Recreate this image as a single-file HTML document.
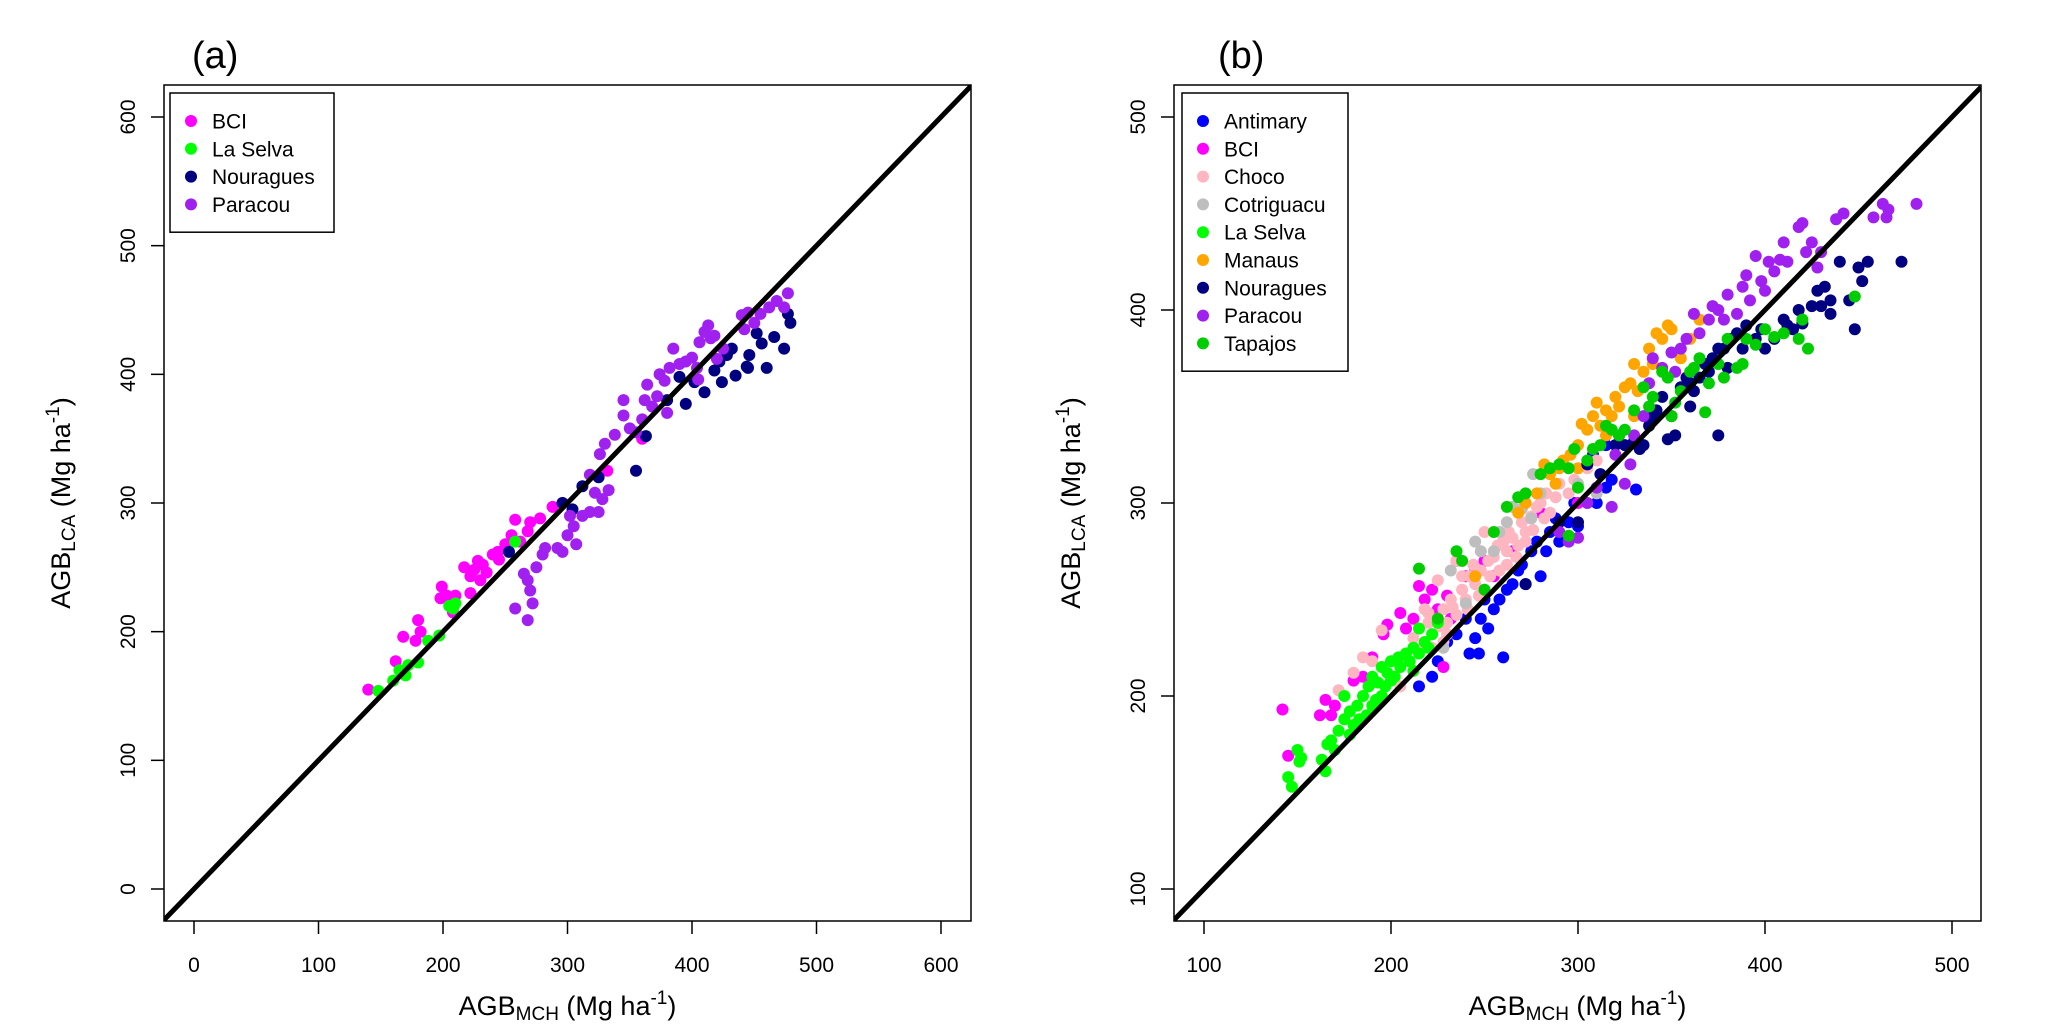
<!DOCTYPE html>
<html><head><meta charset="utf-8"><style>
html,body{margin:0;padding:0;background:#fff;width:2066px;height:1033px;overflow:hidden}
svg{display:block;font-family:"Liberation Sans",Arial,sans-serif}
</style></head><body>
<svg id="chart" width="2066" height="1033" viewBox="0 0 2066 1033" xmlns="http://www.w3.org/2000/svg">
<defs>
<clipPath id="clipA"><rect x="164" y="85" width="807" height="836"/></clipPath>
<clipPath id="clipB"><rect x="1174" y="85" width="807" height="836"/></clipPath>
</defs>
<g id="panelA"></g>
<g id="panelB"></g>
</svg>
<script>
// ---- Panel (a) data ----
const aSeries = ["BCI","La Selva","Nouragues","Paracou"];
const aColors = ["#ff00ff","#00ff00","#000080","#a020f0"];
const aBCI = [[140,155],[162,177],[168,196],[178,193],[180,209],[182,200],[198,226],[199,235],[210,228],[208,215],[217,250],[222,243],[225,248],[228,255],[230,240],[232,252],[235,246],[240,260],[245,256],[250,268],[255,275],[258,287],[262,270],[270,285],[278,288],[288,297],[296,300],[360,350],[332,325],[203,228],[222,230],[244,262],[268,278]];
const aLaSelva = [[148,154],[160,162],[165,170],[170,166],[172,174],[180,176],[188,193],[197,197],[205,220],[210,222],[258,270],[208,218]];
const aNouragues = [[253,262],[296,300],[304,295],[312,313],[325,320],[355,325],[363,352],[380,380],[390,398],[395,377],[402,394],[410,386],[418,403],[422,410],[424,394],[428,415],[432,420],[435,399],[445,405],[446,415],[452,432],[456,424],[460,405],[466,429],[474,420],[477,447],[479,440],[444,406]];
const aParacou = [[265,245],[268,240],[270,232],[272,222],[258,218],[268,209],[275,250],[280,260],[282,265],[292,265],[296,262],[300,275],[302,290],[305,282],[307,268],[312,290],[318,293],[322,308],[325,293],[328,303],[318,322],[326,338],[330,346],[333,310],[338,353],[345,380],[345,368],[350,358],[355,355],[360,365],[362,380],[364,392],[368,375],[372,383],[374,400],[378,395],[380,370],[382,405],[385,420],[390,408],[395,410],[400,413],[404,405],[406,425],[410,433],[413,438],[415,428],[418,430],[405,396],[440,446],[445,448],[450,440],[455,447],[462,452],[468,457],[474,452],[477,463],[442,435],[425,420],[420,412]];
const aTicks = [0,100,200,300,400,500,600];

// ---- Panel (b) data ----
const bSeries = ["Antimary","BCI","Choco","Cotriguacu","La Selva","Manaus","Nouragues","Paracou","Tapajos"];
const bColors = ["#0000ff","#ff00ff","#ffb6c1","#bebebe","#00ff00","#ffa500","#000080","#a020f0","#00cd00"];
const bAntimary = [[215,205],[222,210],[225,218],[242,222],[247,222],[260,220],[245,230],[248,240],[252,235],[255,245],[258,250],[262,255],[265,258],[270,268],[272,258],[275,275],[280,262],[283,275],[285,285],[290,280],[295,290],[300,288],[310,300],[315,308],[318,312],[331,307],[308,325],[315,330],[240,240],[250,250],[268,265],[278,280],[288,292],[298,300],[235,232],[230,228]];
const bBCI = [[142,193],[145,169],[162,190],[165,198],[168,190],[170,195],[180,208],[185,210],[190,220],[196,232],[198,237],[205,243],[208,235],[215,257],[218,250],[222,255],[225,245],[230,252],[232,240],[240,262],[245,265],[250,270],[255,262],[265,275],[280,295],[300,300],[228,215],[235,270],[212,240],[260,280]];
const bChoco = [[172,203],[180,212],[185,220],[190,218],[195,234],[205,205],[208,220],[212,230],[215,235],[218,226],[220,238],[222,232],[225,240],[228,245],[230,232],[232,250],[235,242],[238,255],[240,250],[242,262],[245,258],[248,265],[250,255],[252,270],[255,272],[258,265],[260,280],[262,275],[265,282],[268,278],[270,290],[272,285],[275,293],[278,298],[280,300],[283,305],[285,295],[290,310],[295,305],[298,312],[305,318],[310,322],[225,260],[235,270],[250,285],[218,245],[228,228],[262,268],[220,243],[226,236],[233,246],[238,262],[244,268],[247,252],[253,262],[257,278],[263,285],[267,272],[272,280],[276,286],[282,292],[288,303],[222,225],[230,238],[241,245]];
const bCotriguacu = [[228,225],[232,265],[240,248],[245,280],[248,275],[255,275],[262,290],[265,298],[270,297],[275,292],[276,315],[280,305],[258,285],[300,310],[310,305]];
const bLaSelva = [[145,158],[147,153],[150,172],[151,166],[152,168],[163,167],[165,161],[166,175],[168,177],[170,172],[172,182],[175,188],[175,200],[178,180],[178,192],[180,185],[182,195],[183,188],[185,200],[187,190],[188,205],[190,195],[190,210],[192,198],[193,207],[195,215],[195,200],[197,205],[198,212],[200,218],[200,208],[202,210],[204,220],[205,215],[208,222],[210,218],[212,225],[215,222],[218,228],[222,232],[225,238],[215,235],[212,213],[220,225]];
const bManaus = [[245,262],[268,295],[272,300],[278,305],[282,320],[285,315],[288,310],[292,322],[296,325],[300,330],[302,341],[305,338],[308,345],[310,352],[312,340],[315,348],[318,345],[320,355],[322,350],[325,360],[328,362],[330,372],[332,358],[335,368],[338,380],[340,372],[342,388],[345,385],[348,392],[350,390],[355,375],[360,385],[365,395],[330,345],[315,335],[290,318],[300,318]];
const bNouragues = [[272,258],[290,290],[300,290],[305,320],[312,315],[320,330],[322,335],[325,330],[330,332],[333,328],[335,330],[338,340],[340,345],[342,348],[345,355],[350,345],[352,335],[355,360],[358,365],[360,362],[362,358],[365,365],[368,372],[370,368],[372,375],[375,335],[375,380],[378,380],[380,370],[382,385],[385,388],[388,380],[390,392],[395,385],[398,390],[400,380],[405,385],[410,395],[412,392],[415,390],[418,400],[420,393],[425,402],[428,410],[430,402],[432,412],[435,398],[435,405],[440,425],[445,405],[448,390],[450,422],[452,415],[455,425],[473,425],[348,333],[360,350]];
const bParacou = [[290,285],[295,280],[300,282],[305,300],[310,308],[318,298],[320,325],[325,310],[330,335],[335,345],[340,375],[345,370],[350,378],[352,368],[355,380],[358,385],[362,398],[365,388],[370,395],[372,402],[375,400],[378,395],[380,408],[385,398],[388,412],[390,418],[392,405],[395,428],[398,415],[400,410],[402,425],[405,420],[408,426],[410,435],[412,425],[418,443],[420,445],[422,430],[425,435],[428,422],[430,430],[438,447],[442,450],[458,448],[463,455],[465,448],[466,452],[481,455],[338,362],[328,320]];
const bTapajos = [[215,266],[225,240],[235,275],[238,270],[250,255],[255,285],[262,298],[268,303],[272,305],[280,315],[285,318],[290,320],[295,318],[298,328],[300,308],[305,322],[308,328],[312,330],[315,340],[318,338],[322,335],[325,338],[330,348],[335,360],[338,350],[340,355],[345,368],[348,365],[350,345],[352,352],[355,358],[360,368],[362,370],[365,375],[368,347],[370,362],[375,372],[378,365],[380,385],[385,370],[388,372],[390,385],[395,382],[400,390],[405,386],[410,388],[420,395],[423,380],[418,385],[448,407],[295,283]];
const bTicks = [100,200,300,400,500];

const NS = "http://www.w3.org/2000/svg";
function mk(parent, tag, attrs, text){
  const e = document.createElementNS(NS, tag);
  for (const k in attrs) e.setAttribute(k, attrs[k]);
  if (text !== undefined) e.textContent = text;
  parent.appendChild(e);
  return e;
}

function drawPanel(g, cfg){
  const {box, xd, yd, xr, yr, ticks, series, colors, data, label, labelX, clip, ytitleX, legend} = cfg;
  const sx = v => xr[0] + (v - xd[0]) / (xd[1] - xd[0]) * (xr[1] - xr[0]);
  const sy = v => yr[0] + (v - yd[0]) / (yd[1] - yd[0]) * (yr[1] - yr[0]);
  const ix = p => xd[0] + (p - xr[0]) / (xr[1] - xr[0]) * (xd[1] - xd[0]);
  const iy = p => yd[0] + (p - yr[0]) / (yr[1] - yr[0]) * (yd[1] - yd[0]);
  const lab = mk(g, "text", {x: labelX, y: 68, "font-size": 38, fill: "#000"}, label);
  
  
  const pts = mk(g, "g", {"clip-path": "url(#" + clip + ")"});
  
  
  data.forEach((arr, si) => {
    arr.forEach(p => {
      const c = mk(pts, "circle", {cx: sx(p[0]).toFixed(1), cy: sy(p[1]).toFixed(1), r: 6, fill: colors[si]});
      
      
    });
  });
  // 1:1 line limited to plot box
  const lo = Math.max(ix(box[0]), iy(box[3]));
  const hi = Math.min(ix(box[2]), iy(box[1]));
  const ln = mk(g, "line", {x1: sx(lo), y1: sy(lo), x2: sx(hi), y2: sy(hi), stroke: "#000", "stroke-width": 5, "clip-path": "url(#" + clip + ")"});
  
  
  const bx = mk(g, "rect", {x: box[0], y: box[1], width: box[2]-box[0], height: box[3]-box[1], fill: "none", stroke: "#000", "stroke-width": 1.5});
  
  
  ticks.forEach(t => {
    const X = sx(t);
    const tl = mk(g, "line", {x1: X, y1: box[3], x2: X, y2: box[3]+13, stroke: "#000", "stroke-width": 1.5});
    
    
    const tx = mk(g, "text", {x: X, y: 972, "text-anchor": "middle", "font-size": 21}, String(t));
    
    
    const Y = sy(t);
    const yl = mk(g, "line", {x1: box[0]-13, y1: Y, x2: box[0], y2: Y, stroke: "#000", "stroke-width": 1.5});
    
    
    const yx = mk(g, "text", {x: 0, y: 0, "text-anchor": "middle", "font-size": 21, transform: "translate(" + (box[0]-29) + "," + Y + ") rotate(-90)"}, String(t));
    
    
  });
  const cx = (box[0]+box[2])/2;
  const xt = mk(g, "text", {x: cx, y: 1015, "text-anchor": "middle", "font-size": 27});
  
  
  xt.innerHTML = 'AGB<tspan font-size="19" dy="5">MCH</tspan><tspan dy="-5"> (Mg ha</tspan><tspan font-size="19" dy="-11">-1</tspan><tspan dy="11">)</tspan>';
  const cy = (box[1]+box[3])/2;
  const yt = mk(g, "text", {x: 0, y: 0, "text-anchor": "middle", "font-size": 27, transform: "translate(" + ytitleX + "," + cy + ") rotate(-90)"});
  
  
  yt.innerHTML = 'AGB<tspan font-size="19" dy="5">LCA</tspan><tspan dy="-5"> (Mg ha</tspan><tspan font-size="19" dy="-11">-1</tspan><tspan dy="11">)</tspan>';
  const lg = mk(g, "g", {});
  
  
  const lb = mk(lg, "rect", {x: legend.x, y: 93, width: legend.w, height: 28 + series.length*27.8, fill: "#fff", stroke: "#000", "stroke-width": 1.5});
  
  
  series.forEach((s, i) => {
    const yy = 121 + i*27.8;
    const e = mk(lg, "g", {});
    
    
    mk(e, "circle", {cx: legend.x + 21, cy: yy, r: 6, fill: colors[i]});
    mk(e, "text", {x: legend.x + 42, y: yy + 7.5, "font-size": 21}, s);
  });
}

drawPanel(document.getElementById("panelA"), {
  box: [164, 85, 971, 921], xd: [0, 600], xr: [194, 941], yd: [0, 600], yr: [889, 117],
  ticks: aTicks, series: aSeries, colors: aColors,
  data: [aBCI, aLaSelva, aNouragues, aParacou],
  label: "(a)", labelX: 192, clip: "clipA", ytitleX: 70, legend: {x: 170, w: 164}
});
drawPanel(document.getElementById("panelB"), {
  box: [1174, 85, 1981, 921], xd: [100, 500], xr: [1204, 1952], yd: [100, 500], yr: [889, 117],
  ticks: bTicks, series: bSeries, colors: bColors,
  data: [bAntimary, bBCI, bChoco, bCotriguacu, bLaSelva, bManaus, bNouragues, bParacou, bTapajos],
  label: "(b)", labelX: 1218, clip: "clipB", ytitleX: 1080, legend: {x: 1182, w: 166}
});
</script>
</body></html>
